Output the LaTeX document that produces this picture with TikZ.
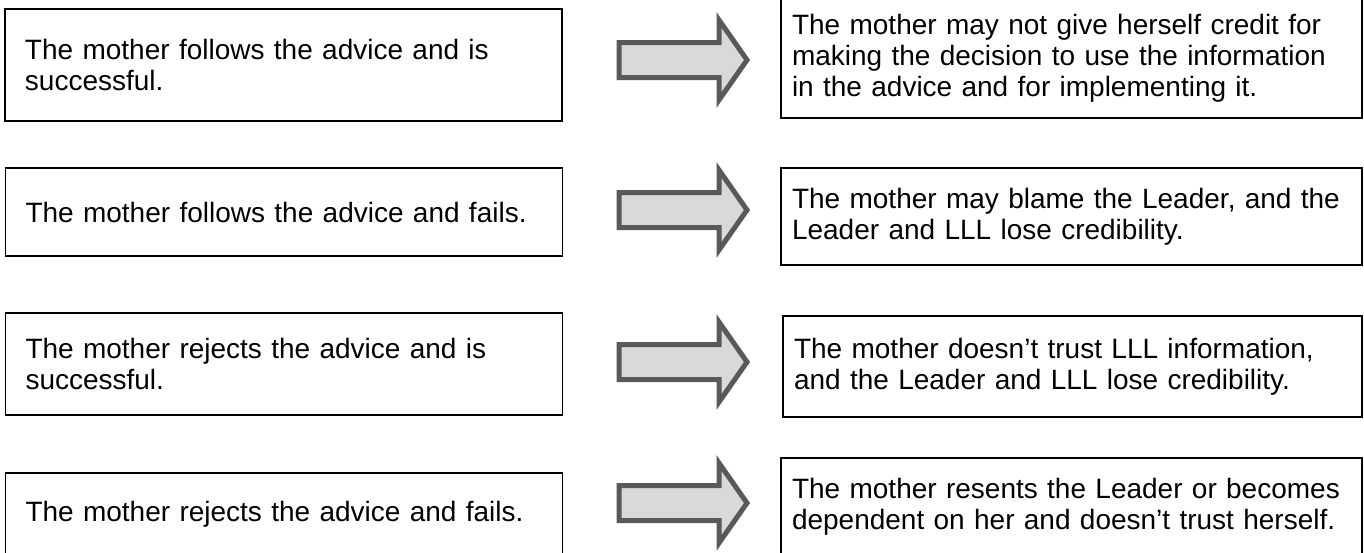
\documentclass[tikz,border=0pt]{standalone}
\usepackage{fontspec}
\setmainfont{Liberation Sans}
\begin{document}
\begin{tikzpicture}[x=0.5pt,y=-0.5pt,
  basebox/.style={draw=black, line width=0.7pt, rectangle, align=left, font=\fontsize{14pt}{15.5pt}\selectfont, inner ysep=0pt},
  lbox/.style={basebox, minimum width=278.5pt, inner xsep=10pt, text width=258.5pt},
  rbox/.style={basebox, minimum width=290.5pt, inner xsep=5.5pt, text width=279.5pt},
  blockarrow/.style={draw=arrowline, fill=arrowfill, line width=2.5pt, line join=miter}
]
\definecolor{arrowline}{HTML}{595959}
\definecolor{arrowfill}{HTML}{D9D9D9}
\useasboundingbox (0,0) rectangle (1364,552);

\node[lbox, minimum height=56pt] (l1) at (283.5,65) {The mother follows the advice and is\\successful.};
\node[lbox, minimum height=44pt] (l2) at (284,212) {The mother follows the advice and fails.};
\node[lbox, minimum height=51pt] (l3) at (284,364) {The mother rejects the advice and is\\successful.};
\node[lbox, minimum height=41.5pt] (l4) at (284,514.5) {The mother rejects the advice and fails.};

\node[rbox, minimum height=60pt] (r1) at (1071.5,58) {The mother may not give herself credit for\\making the decision to use the information\\in the advice and for implementing it.};
\node[rbox, minimum height=48.5pt] (r2) at (1071.5,216.5) {The mother may blame the Leader, and the\\Leader and LLL lose credibility.};
\node[rbox, minimum width=289.5pt, text width=278.5pt, minimum height=50.5pt] (r3) at (1072.5,366.5) {The mother doesn’t trust LLL information,\\and the Leader and LLL lose credibility.};
\node[rbox, minimum height=49pt] (r4) at (1071.5,507) {The mother resents the Leader or becomes\\dependent on her and doesn’t trust herself.};

\foreach \c/\n in {60/a1,210/a2,362/a3,503/a4}{
  \draw[blockarrow] (619,\c-17.5) -- (719,\c-17.5) -- (719,\c-40) -- (747,\c) -- (719,\c+40) -- (719,\c+17.5) -- (619,\c+17.5) -- cycle;
}
\end{tikzpicture}
\end{document}
